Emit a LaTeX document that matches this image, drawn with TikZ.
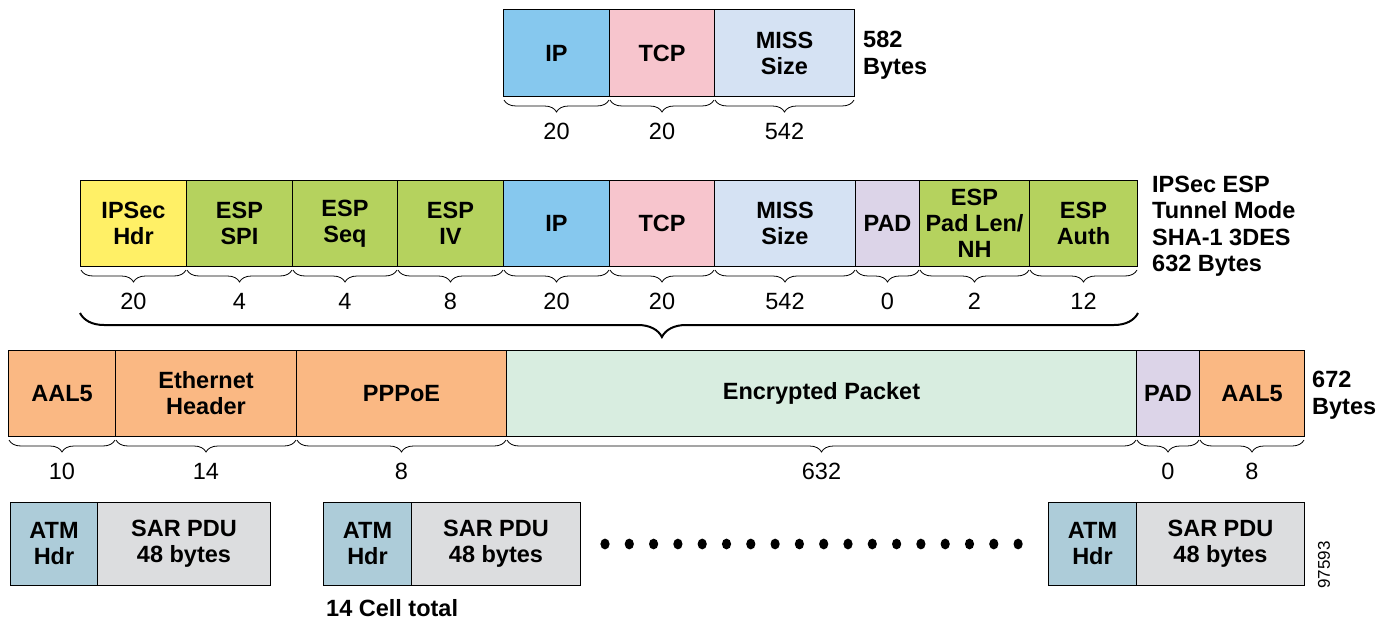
\documentclass[tikz,border=0pt]{standalone}
\usepackage{fontspec}
\setmainfont{Liberation Sans}
\usetikzlibrary{decorations.pathreplacing}
\definecolor{cIP}{HTML}{86C8EE}
\definecolor{cTCP}{HTML}{F7C5CD}
\definecolor{cMISS}{HTML}{D5E2F3}
\definecolor{cIPSec}{HTML}{FFF066}
\definecolor{cESP}{HTML}{B5D25E}
\definecolor{cPAD}{HTML}{DCD4E8}
\definecolor{cAAL}{HTML}{FAB883}
\definecolor{cENC}{HTML}{D8EDE0}
\definecolor{cATM}{HTML}{ADCCD9}
\definecolor{cSAR}{HTML}{DCDDDF}
\newcommand{\fld}[7]{\node[fld, fill=#6, minimum width={#3-#2}, minimum height={#5-#4}] (#1) at (#2,#4) {#7};}
\newcommand{\brc}[2]{\draw[sbrace] ([xshift=1pt,yshift=-3pt]#1.south west) -- ([xshift=-1pt,yshift=-3pt]#1.south east);
  \node[num] (n-#1) at ([yshift=-34pt]#1.south) {#2};}
\begin{document}
\begin{tikzpicture}[x=1pt,y=-1pt,
  fld/.style={draw=black, line width=1pt, anchor=north west, inner sep=0pt, align=center,
    font=\fontsize{23.5}{26}\selectfont\bfseries},
  num/.style={font=\fontsize{23.5}{26}\selectfont, inner sep=0pt},
  lbl/.style={anchor=west, align=left, inner sep=0pt, font=\fontsize{23.5}{26.5}\selectfont\bfseries},
  sbrace/.style={decorate, decoration={brace, mirror, amplitude=12pt}, line width=0.8pt},
  bbrace/.style={decorate, decoration={brace, mirror, amplitude=24pt, aspect=0.55}, line width=2pt}]
\useasboundingbox (0,0) rectangle (1390,624);
% Row 1
\fld{ipA}{503}{609}{9}{96}{cIP}{IP}
\fld{tcpA}{609}{714}{9}{96}{cTCP}{TCP}
\fld{missA}{714}{854}{9}{96}{cMISS}{MISS\\Size}
\brc{ipA}{20}\brc{tcpA}{20}\brc{missA}{542}
\node[lbl] (lA) at (863,55) {582\\Bytes};
% Row 2
\fld{ipsec}{80}{186}{180}{266}{cIPSec}{IPSec\\Hdr}
\fld{spi}{186}{292}{180}{266}{cESP}{ESP\\SPI}
\fld{seq}{292}{397}{180}{266}{cESP}{ESP\\Seq}
\fld{iv}{397}{503}{180}{266}{cESP}{ESP\\IV}
\fld{ipB}{503}{609}{180}{266}{cIP}{IP}
\fld{tcpB}{609}{714}{180}{266}{cTCP}{TCP}
\fld{missB}{714}{855}{180}{266}{cMISS}{MISS\\Size}
\fld{padB}{855}{919}{180}{266}{cPAD}{PAD}
\fld{padlen}{919}{1029}{180}{266}{cESP}{ESP\\Pad Len/\\NH}
\fld{auth}{1029}{1137}{180}{266}{cESP}{ESP\\Auth}
\brc{ipsec}{20}\brc{spi}{4}\brc{seq}{4}\brc{iv}{8}\brc{ipB}{20}\brc{tcpB}{20}
\brc{missB}{542}\brc{padB}{0}\brc{padlen}{2}\brc{auth}{12}
\node[lbl] (lB) at (1152,226) {IPSec ESP\\Tunnel Mode\\SHA-1 3DES\\632 Bytes};
\draw[bbrace] ([yshift=-46pt]ipsec.south west) -- ([yshift=-46pt]auth.south east);
% Row 3
\fld{aalA}{8}{115}{350}{436}{cAAL}{AAL5}
\fld{eth}{115}{296}{350}{436}{cAAL}{Ethernet\\Header}
\fld{pppoe}{296}{506}{350}{436}{cAAL}{PPPoE}
\fld{enc}{506}{1136}{350}{436}{cENC}{Encrypted Packet}
\fld{padC}{1136}{1199}{350}{436}{cPAD}{PAD}
\fld{aalB}{1199}{1304}{350}{436}{cAAL}{AAL5}
\brc{aalA}{10}\brc{eth}{14}\brc{pppoe}{8}\brc{enc}{632}\brc{padC}{0}\brc{aalB}{8}
\node[lbl] (lC) at (1312,395) {672\\Bytes};
% Row 4
\fld{atmA}{10}{97}{502}{585}{cATM}{ATM\\Hdr}
\fld{sarA}{97}{270}{502}{585}{cSAR}{SAR PDU\\48 bytes}
\fld{atmB}{323}{411}{502}{585}{cATM}{ATM\\Hdr}
\fld{sarB}{411}{580}{502}{585}{cSAR}{SAR PDU\\48 bytes}
\fld{atmC}{1048}{1136}{502}{585}{cATM}{ATM\\Hdr}
\fld{sarC}{1136}{1304}{502}{585}{cSAR}{SAR PDU\\48 bytes}
\foreach \i in {0,...,17} {\fill ({605+\i*24.3},544) ellipse (4.6 and 5.4);}
\node[lbl] (cells) at (326,608) {14 Cell total};
\node[num, font=\fontsize{17}{20}\selectfont, rotate=90] (fig) at (1324,565) {97593};
\end{tikzpicture}
\end{document}
